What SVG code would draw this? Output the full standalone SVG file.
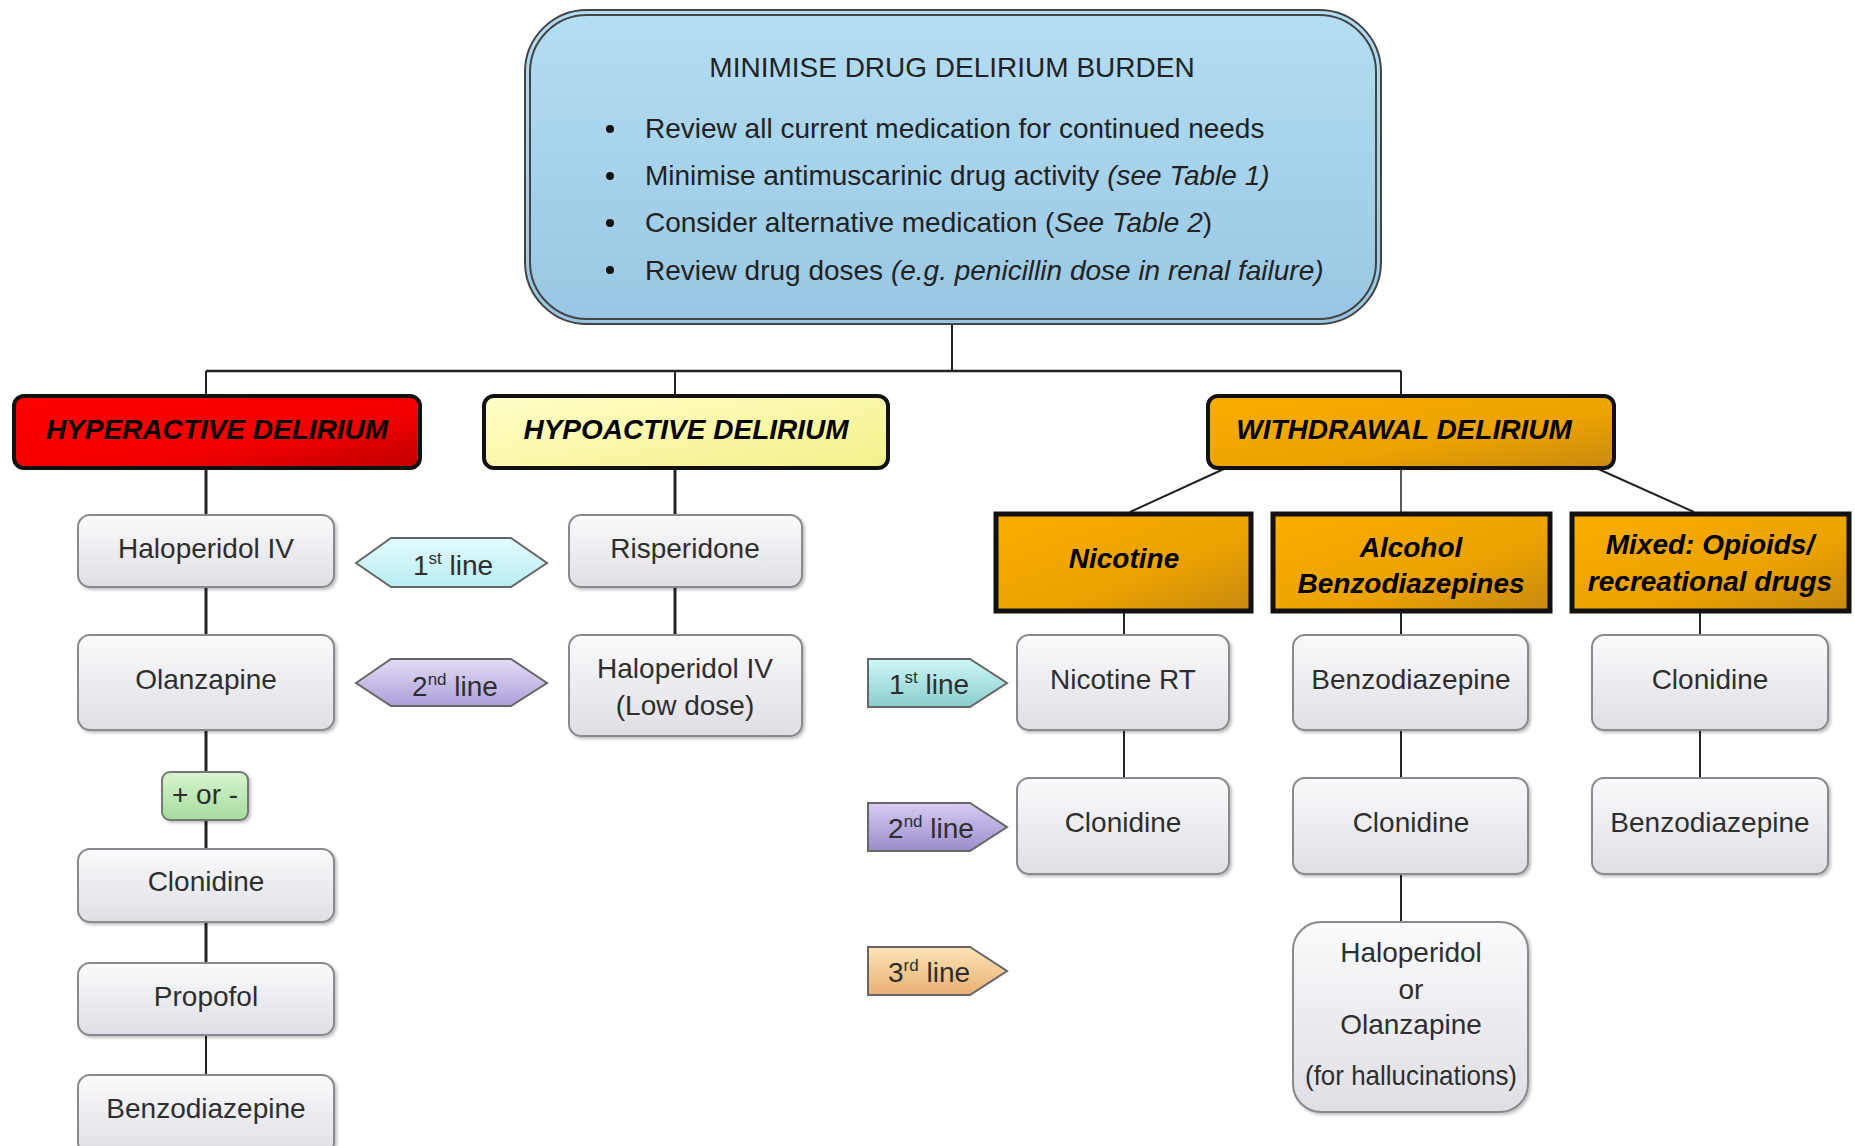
<svg xmlns="http://www.w3.org/2000/svg" width="1855" height="1146" viewBox="0 0 1855 1146">
<defs>
<linearGradient id="gTop" x1="0" y1="0" x2="0" y2="1"><stop offset="0" stop-color="#b4def4"/><stop offset="1" stop-color="#98c6e2"/></linearGradient>
<linearGradient id="gRed" x1="0" y1="0" x2="1" y2="1"><stop offset="0" stop-color="#ff0000"/><stop offset="0.6" stop-color="#f40000"/><stop offset="1" stop-color="#c00000"/></linearGradient>
<linearGradient id="gYel" x1="0" y1="0" x2="1" y2="1"><stop offset="0" stop-color="#ffffc8"/><stop offset="1" stop-color="#f4f08a"/></linearGradient>
<linearGradient id="gOra" x1="0" y1="0" x2="1" y2="1"><stop offset="0" stop-color="#f8ae00"/><stop offset="0.6" stop-color="#eca200"/><stop offset="1" stop-color="#c88a10"/></linearGradient>
<linearGradient id="gNode" x1="0" y1="0" x2="0" y2="1"><stop offset="0" stop-color="#fbfbfd"/><stop offset="1" stop-color="#dedee4"/></linearGradient>
<linearGradient id="gGreen" x1="0" y1="0" x2="0" y2="1"><stop offset="0" stop-color="#d8f4d0"/><stop offset="1" stop-color="#a4dc9c"/></linearGradient>
<linearGradient id="gCyan" x1="0" y1="0" x2="0" y2="1"><stop offset="0" stop-color="#e4fcfe"/><stop offset="1" stop-color="#b8ecf2"/></linearGradient>
<linearGradient id="gLav" x1="0" y1="0" x2="0" y2="1"><stop offset="0" stop-color="#e4dcf6"/><stop offset="1" stop-color="#ad9fd8"/></linearGradient>
<linearGradient id="gCyan2" x1="0" y1="0" x2="0" y2="1"><stop offset="0" stop-color="#d0f8f8"/><stop offset="1" stop-color="#88cccc"/></linearGradient>
<linearGradient id="gLav2" x1="0" y1="0" x2="0" y2="1"><stop offset="0" stop-color="#d8ccf2"/><stop offset="1" stop-color="#9a8ccc"/></linearGradient>
<linearGradient id="gPeach" x1="0" y1="0" x2="0" y2="1"><stop offset="0" stop-color="#fee4b8"/><stop offset="1" stop-color="#e8b072"/></linearGradient>
<filter id="sh" x="-10%" y="-10%" width="125%" height="130%"><feDropShadow dx="2" dy="2" stdDeviation="1.5" flood-color="#000" flood-opacity="0.25"/></filter>
</defs>
<style>
text{font-family:"Liberation Sans",Arial,sans-serif;font-size:28px}
.node{fill:url(#gNode);stroke:#8a8a8e;stroke-width:2;filter:url(#sh)}
.nt{fill:#2e2e2e;text-anchor:middle}
.cat{stroke:#111;stroke-width:4}
.ct{fill:#000;font-weight:bold;font-style:italic;text-anchor:middle}
.sub{fill:url(#gOra);stroke:#111;stroke-width:5}
.tt{fill:#222}
.tag{stroke:#666;stroke-width:2}
.c{stroke:#222;fill:none}
</style>
<g id="connectors">
<line class="c" x1="952" y1="324" x2="952" y2="371" stroke-width="2"/>
<line class="c" x1="206" y1="371" x2="1401" y2="371" stroke-width="2.5"/>
<line class="c" x1="206" y1="371" x2="206" y2="396" stroke-width="2"/>
<line class="c" x1="675" y1="371" x2="675" y2="396" stroke-width="2"/>
<line class="c" x1="1401" y1="371" x2="1401" y2="396" stroke-width="2"/>
<line class="c" x1="206" y1="468" x2="206" y2="515" stroke-width="3"/>
<line class="c" x1="206" y1="587" x2="206" y2="635" stroke-width="3"/>
<line class="c" x1="206" y1="730" x2="206" y2="772" stroke-width="3"/>
<line class="c" x1="206" y1="820" x2="206" y2="849" stroke-width="3"/>
<line class="c" x1="206" y1="922" x2="206" y2="963" stroke-width="3"/>
<line class="c" x1="206" y1="1035" x2="206" y2="1075" stroke-width="2"/>
<line class="c" x1="675" y1="468" x2="675" y2="515" stroke-width="3"/>
<line class="c" x1="675" y1="587" x2="675" y2="635" stroke-width="3"/>
<line class="c" x1="1226" y1="468" x2="1130" y2="512" stroke-width="2"/>
<line class="c" x1="1401" y1="468" x2="1401" y2="512" stroke-width="1.5"/>
<line class="c" x1="1596" y1="468" x2="1694" y2="512" stroke-width="2"/>
<line class="c" x1="1124" y1="612" x2="1124" y2="635" stroke-width="2"/>
<line class="c" x1="1124" y1="730" x2="1124" y2="778" stroke-width="2"/>
<line class="c" x1="1401" y1="612" x2="1401" y2="635" stroke-width="2"/>
<line class="c" x1="1401" y1="730" x2="1401" y2="778" stroke-width="2"/>
<line class="c" x1="1401" y1="874" x2="1401" y2="922" stroke-width="2"/>
<line class="c" x1="1700" y1="612" x2="1700" y2="635" stroke-width="2"/>
<line class="c" x1="1700" y1="730" x2="1700" y2="778" stroke-width="2"/>
</g>
<g id="top">
<rect x="525" y="10" width="856" height="314" rx="62" fill="url(#gTop)" stroke="#444" stroke-width="2"/>
<rect x="530" y="15" width="846" height="304" rx="57" fill="none" stroke="#444" stroke-width="2"/>
<text class="tt" x="952" y="77" text-anchor="middle">MINIMISE DRUG DELIRIUM BURDEN</text>
<circle cx="610" cy="129" r="4" fill="#111"/>
<circle cx="610" cy="176" r="4" fill="#111"/>
<circle cx="610" cy="223" r="4" fill="#111"/>
<circle cx="610" cy="270" r="4" fill="#111"/>
<text class="tt" x="645" y="138">Review all current medication for continued needs</text>
<text class="tt" x="645" y="185">Minimise antimuscarinic drug activity <tspan font-style="italic">(see Table 1)</tspan></text>
<text class="tt" x="645" y="232">Consider alternative medication (<tspan font-style="italic">See Table 2</tspan>)</text>
<text class="tt" x="645" y="280">Review drug doses <tspan font-style="italic">(e.g. penicillin dose in renal failure)</tspan></text>
</g>
<g id="hyperactive">
<rect class="cat" x="14" y="396" width="406" height="72" rx="10" fill="url(#gRed)"/>
<text class="ct" x="217" y="439">HYPERACTIVE DELIRIUM</text>
</g>
<g id="hypoactive">
<rect class="cat" x="484" y="396" width="404" height="72" rx="10" fill="url(#gYel)"/>
<text class="ct" x="686" y="439">HYPOACTIVE DELIRIUM</text>
</g>
<g id="withdrawal">
<rect class="cat" x="1208" y="396" width="406" height="72" rx="10" fill="url(#gOra)"/>
<text class="ct" x="1404" y="439">WITHDRAWAL DELIRIUM</text>
</g>
<g id="hyper-haloperidol"><rect class="node" x="78" y="515" width="256" height="72" rx="12"/><text class="nt" x="206" y="558">Haloperidol IV</text></g>
<g id="hyper-olanzapine"><rect class="node" x="78" y="635" width="256" height="95" rx="12"/><text class="nt" x="206" y="689">Olanzapine</text></g>
<g id="plus-or-minus"><rect x="162" y="772" width="86" height="48" rx="8" fill="url(#gGreen)" stroke="#777" stroke-width="2" filter="url(#sh)"/><text class="nt" x="205" y="804">+ or -</text></g>
<g id="hyper-clonidine"><rect class="node" x="78" y="849" width="256" height="73" rx="12"/><text class="nt" x="206" y="891">Clonidine</text></g>
<g id="hyper-propofol"><rect class="node" x="78" y="963" width="256" height="72" rx="12"/><text class="nt" x="206" y="1006">Propofol</text></g>
<g id="hyper-benzodiazepine"><rect class="node" x="78" y="1075" width="256" height="80" rx="12"/><text class="nt" x="206" y="1118">Benzodiazepine</text></g>
<g id="hex-1st"><polygon class="tag" points="356,563 391,538 511,538 547,563 511,587 391,587" fill="url(#gCyan)"/><text class="nt" x="453" y="575">1<tspan font-size="17" dy="-11">st</tspan><tspan dy="11"> line</tspan></text></g>
<g id="hex-2nd"><polygon class="tag" points="356,683 391,659 511,659 547,683 511,706 391,706" fill="url(#gLav)"/><text class="nt" x="455" y="696">2<tspan font-size="17" dy="-11">nd</tspan><tspan dy="11"> line</tspan></text></g>
<g id="risperidone"><rect class="node" x="569" y="515" width="233" height="72" rx="12"/><text class="nt" x="685" y="558">Risperidone</text></g>
<g id="hypo-haloperidol"><rect class="node" x="569" y="635" width="233" height="101" rx="12"/><text class="nt" x="685" y="678">Haloperidol IV</text><text class="nt" x="685" y="715">(Low dose)</text></g>
<g id="nicotine"><rect class="sub" x="996" y="514" width="255" height="97"/><text class="ct" x="1124" y="568">Nicotine</text></g>
<g id="alcohol"><rect class="sub" x="1273" y="514" width="277" height="97"/><text class="ct" x="1411" y="557">Alcohol</text><text class="ct" x="1411" y="593">Benzodiazepines</text></g>
<g id="mixed"><rect class="sub" x="1572" y="514" width="277" height="97"/><text class="ct" x="1710" y="554">Mixed: Opioids/</text><text class="ct" x="1710" y="591">recreational drugs</text></g>
<g id="arrow-1st"><polygon class="tag" points="868,659 970,659 1007,683 970,707 868,707" fill="url(#gCyan2)"/><text class="nt" x="929" y="694">1<tspan font-size="17" dy="-11">st</tspan><tspan dy="11"> line</tspan></text></g>
<g id="arrow-2nd"><polygon class="tag" points="868,803 970,803 1007,827 970,851 868,851" fill="url(#gLav2)"/><text class="nt" x="931" y="838">2<tspan font-size="17" dy="-11">nd</tspan><tspan dy="11"> line</tspan></text></g>
<g id="arrow-3rd"><polygon class="tag" points="868,947 970,947 1007,971 970,995 868,995" fill="url(#gPeach)"/><text class="nt" x="929" y="982">3<tspan font-size="17" dy="-11">rd</tspan><tspan dy="11"> line</tspan></text></g>
<g id="nicotine-rt"><rect class="node" x="1017" y="635" width="212" height="95" rx="12"/><text class="nt" x="1123" y="689">Nicotine RT</text></g>
<g id="nic-clonidine"><rect class="node" x="1017" y="778" width="212" height="96" rx="12"/><text class="nt" x="1123" y="832">Clonidine</text></g>
<g id="alc-benzodiazepine"><rect class="node" x="1293" y="635" width="235" height="95" rx="12"/><text class="nt" x="1411" y="689">Benzodiazepine</text></g>
<g id="alc-clonidine"><rect class="node" x="1293" y="778" width="235" height="96" rx="12"/><text class="nt" x="1411" y="832">Clonidine</text></g>
<g id="alc-haloperidol"><rect class="node" x="1293" y="922" width="235" height="190" rx="28"/><text class="nt" x="1411" y="962">Haloperidol</text><text class="nt" x="1411" y="999">or</text><text class="nt" x="1411" y="1034">Olanzapine</text><text class="nt" x="1411" y="1085" textLength="212" lengthAdjust="spacingAndGlyphs">(for hallucinations)</text></g>
<g id="mix-clonidine"><rect class="node" x="1592" y="635" width="236" height="95" rx="12"/><text class="nt" x="1710" y="689">Clonidine</text></g>
<g id="mix-benzodiazepine"><rect class="node" x="1592" y="778" width="236" height="96" rx="12"/><text class="nt" x="1710" y="832">Benzodiazepine</text></g>
</svg>
